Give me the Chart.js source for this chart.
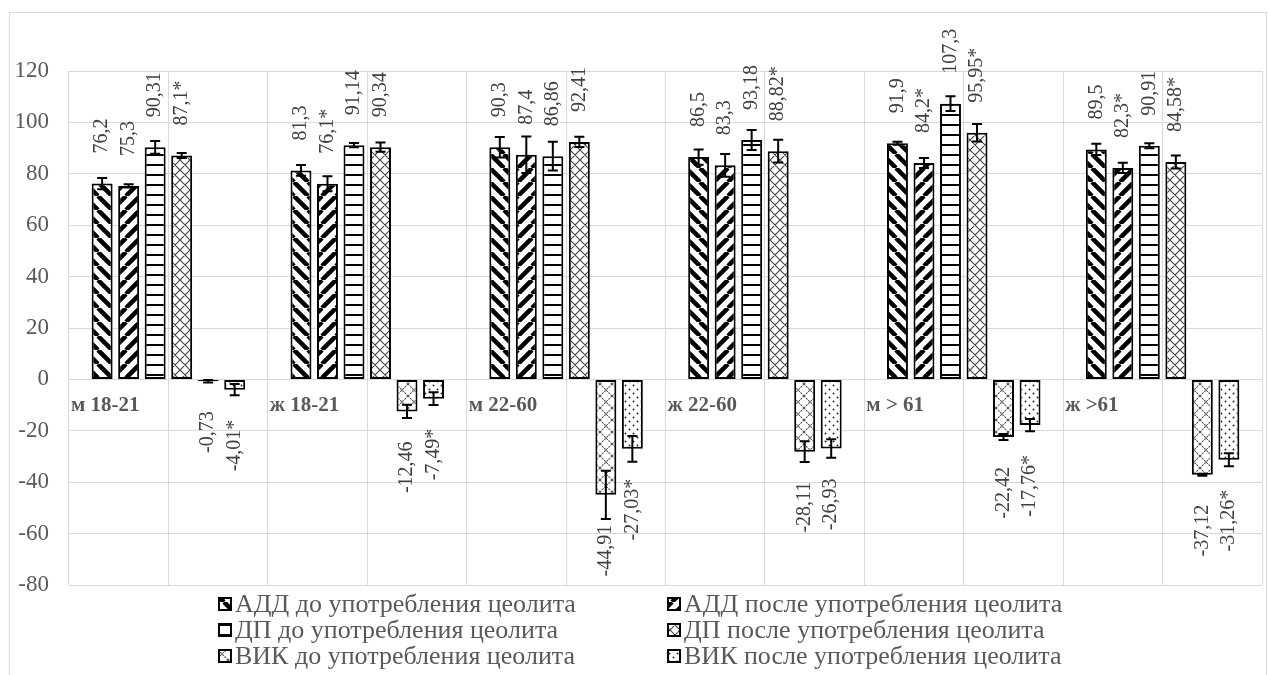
<!DOCTYPE html>
<html><head><meta charset="utf-8">
<script src="https://cdn.jsdelivr.net/npm/chart.js@4.4.1/dist/chart.umd.min.js"></script>
<style>html,body{margin:0;padding:0;background:#fff;}canvas{display:block;}</style>
</head><body>
<canvas id="c" width="1268" height="675"></canvas>
<script>
// ---- data ----
const categories = ['м 18-21', 'ж 18-21', 'м 22-60', 'ж 22-60', 'м > 61', 'ж >61'];
const seriesNames = [
  'АДД до употребления цеолита', 'АДД после употребления цеолита',
  'ДП до употребления цеолита', 'ДП после употребления цеолита',
  'ВИК до употребления цеолита', 'ВИК после употребления цеолита'
];
const addBefore = [76.2, 81.3, 90.3, 86.5, 91.9, 89.5];
const addAfter  = [75.3, 76.1, 87.4, 83.3, 84.2, 82.3];
const dpBefore  = [90.31, 91.14, 86.86, 93.18, 107.3, 90.91];
const dpAfter   = [87.1, 90.34, 92.41, 88.82, 95.95, 84.58];
const vikBefore = [-0.73, -12.46, -44.91, -28.11, -22.42, -37.12];
const vikAfter  = [-4.01, -7.49, -27.03, -26.93, -17.76, -31.26];

const addBeforeErr = [2.2, 2.1, 4.0, 3.0, 0.6, 2.2];
const addAfterErr  = [0.6, 2.9, 7.1, 4.4, 1.9, 2.0];
const dpBeforeErr  = [2.5, 0.8, 5.6, 3.9, 2.9, 1.0];
const dpAfterErr   = [1.0, 1.8, 2.0, 4.4, 3.4, 2.5];
const vikBeforeErr = [0.5, 2.6, 9.4, 4.0, 1.2, 0.4];
const vikAfterErr  = [2.2, 2.5, 5.0, 3.6, 2.4, 2.5];

const addBeforeStar = [false, false, false, false, false, false];
const addAfterStar  = [false, true, false, false, true, true];
const dpBeforeStar  = [false, false, false, false, false, false];
const dpAfterStar   = [true, false, false, true, true, true];
const vikBeforeStar = [false, false, false, false, false, false];
const vikAfterStar  = [true, true, true, false, true, true];

const yTickMin = -80, yTickMax = 120, yTickStep = 20;

// ---- styles ----
const FONT = "'Liberation Serif', 'Times New Roman', serif";
const GRID = '#d9d9d9';

function makePattern(kind) {
  const c = document.createElement('canvas');
  const g = c.getContext('2d');
  let s = 14;
  if (kind === 'down' || kind === 'up') {
    s = 14; c.width = c.height = s;
    g.fillStyle = '#fff'; g.fillRect(0, 0, s, s);
    g.strokeStyle = '#000'; g.lineWidth = 4.5; g.beginPath();
    for (let k = -1; k <= 1; k++) {
      if (kind === 'down') { g.moveTo(k * s, 0); g.lineTo(k * s + s, s); }
      else { g.moveTo(k * s, s); g.lineTo(k * s + s, 0); }
    }
    g.stroke();
  } else if (kind === 'horiz') {
    s = 10; c.width = c.height = s;
    g.fillStyle = '#fff'; g.fillRect(0, 0, s, s);
    g.fillStyle = '#000'; g.fillRect(0, 4, s, 2);
  } else if (kind === 'cross') {
    s = 10; c.width = c.height = s;
    g.fillStyle = '#fff'; g.fillRect(0, 0, s, s);
    g.strokeStyle = '#444'; g.lineWidth = 1.1; g.beginPath();
    for (let k = -1; k <= 1; k++) {
      g.moveTo(k * s, 0); g.lineTo(k * s + s, s);
      g.moveTo(k * s, s); g.lineTo(k * s + s, 0);
    }
    g.stroke();
  } else if (kind === 'cross2') {
    s = 12; c.width = c.height = s;
    g.fillStyle = '#fff'; g.fillRect(0, 0, s, s);
    g.strokeStyle = '#555'; g.lineWidth = 1.1; g.setLineDash([2, 1]); g.beginPath();
    for (let k = -1; k <= 1; k++) {
      g.moveTo(k * s, 0); g.lineTo(k * s + s, s);
      g.moveTo(k * s, s); g.lineTo(k * s + s, 0);
    }
    g.stroke();
  } else if (kind === 'dots') {
    s = 8; c.width = c.height = s;
    g.fillStyle = '#fff'; g.fillRect(0, 0, s, s);
    g.fillStyle = '#222';
    g.beginPath(); g.arc(1.5, 1.5, 0.95, 0, Math.PI * 2); g.fill();
    g.beginPath(); g.arc(5.5, 5.5, 0.95, 0, Math.PI * 2); g.fill();
  }
  return g.createPattern(c, 'repeat');
}

const patterns = [makePattern('down'), makePattern('up'), makePattern('horiz'),
                  makePattern('cross'), makePattern('cross2'), makePattern('dots')];
const seriesValues = [addBefore, addAfter, dpBefore, dpAfter, vikBefore, vikAfter];
const seriesErrors = [addBeforeErr, addAfterErr, dpBeforeErr, dpAfterErr, vikBeforeErr, vikAfterErr];
const seriesStars = [addBeforeStar, addAfterStar, dpBeforeStar, dpAfterStar, vikBeforeStar, vikAfterStar];

const datasets = seriesNames.map((name, i) => ({
  label: name,
  data: seriesValues[i],
  errors: seriesErrors[i],
  stars: seriesStars[i],
  backgroundColor: patterns[i],
  borderColor: '#000',
  borderWidth: 2,
  borderSkipped: false,
  categoryPercentage: 0.8,
  barPercentage: 0.79
}));

function fmt(v, star) {
  return String(v).replace('.', ',') + (star ? '*' : '');
}

const bgPlugin = {
  id: 'bg',
  beforeDraw(chart) {
    const ctx = chart.ctx;
    ctx.save();
    ctx.fillStyle = '#fff';
    ctx.fillRect(0, 0, chart.width, chart.height);
    ctx.strokeStyle = GRID; ctx.lineWidth = 1;
    ctx.strokeRect(9.5, 12.5, chart.width - 11, chart.height - 12);
    ctx.restore();
  }
};

const errLabelPlugin = {
  id: 'errLabels',
  afterDatasetsDraw(chart) {
    const ctx = chart.ctx;
    const ys = chart.scales.y;
    chart.data.datasets.forEach((ds, di) => {
      const meta = chart.getDatasetMeta(di);
      meta.data.forEach((bar, i) => {
        const v = ds.data[i], e = ds.errors[i];
        const y1 = ys.getPixelForValue(v + e), y2 = ys.getPixelForValue(v - e);
        ctx.save();
        ctx.strokeStyle = '#000'; ctx.lineWidth = 2;
        ctx.beginPath();
        ctx.moveTo(bar.x, y1); ctx.lineTo(bar.x, y2);
        ctx.moveTo(bar.x - 5, y1); ctx.lineTo(bar.x + 5, y1);
        ctx.moveTo(bar.x - 5, y2); ctx.lineTo(bar.x + 5, y2);
        ctx.stroke();
        ctx.restore();
      });
    });
    chart.data.datasets.forEach((ds, di) => {
      const meta = chart.getDatasetMeta(di);
      meta.data.forEach((bar, i) => {
        const v = ds.data[i];
        const txt = fmt(v, ds.stars[i]);
        ctx.save();
        ctx.font = '20px ' + FONT;
        ctx.fillStyle = '#404040';
        ctx.textBaseline = 'middle';
        const off = 30;
        if (v >= 0) {
          ctx.translate(bar.x, bar.y - off);
          ctx.rotate(-Math.PI / 2);
          ctx.textAlign = 'left';
        } else {
          ctx.translate(bar.x, bar.y + off);
          ctx.rotate(-Math.PI / 2);
          ctx.textAlign = 'right';
        }
        ctx.fillText(txt, 0, 0);
        ctx.restore();
      });
    });
  }
};

const legendPlugin = {
  id: 'customLegend',
  afterDraw(chart) {
    const ctx = chart.ctx;
    const colX = [218, 667];
    const rowY = [604, 630, 656];
    chart.data.datasets.forEach((ds, i) => {
      const x = colX[i % 2], y = rowY[Math.floor(i / 2)];
      ctx.save();
      ctx.fillStyle = ds.backgroundColor;
      ctx.fillRect(x, y - 7, 14, 14);
      ctx.strokeStyle = '#000'; ctx.lineWidth = 2;
      ctx.strokeRect(x + 1, y - 6, 12, 12);
      ctx.font = '26px ' + FONT;
      ctx.fillStyle = '#595959';
      ctx.textBaseline = 'middle';
      ctx.textAlign = 'left';
      ctx.fillText(ds.label, x + 17, y + 1);
      ctx.restore();
    });
  }
};

new Chart(document.getElementById('c'), {
  type: 'bar',
  data: { labels: categories, datasets },
  options: {
    responsive: false,
    animation: false,
    devicePixelRatio: 1,
    layout: { padding: { top: 71, left: 0, right: 6, bottom: 90 } },
    plugins: { legend: { display: false }, tooltip: { enabled: false } },
    scales: {
      x: {
        position: { y: 0 },
        offset: true,
        grid: { offset: true, color: GRID, drawTicks: false },
        border: { color: GRID },
        ticks: {
          align: 'start',
          labelOffset: (c) => {
            const ca = c.chart.chartArea;
            return ca ? -(ca.right - ca.left) / categories.length / 2 + 2 : -97;
          },
          padding: 14,
          color: '#595959',
          font: { family: FONT, size: 21, weight: 'bold' },
          maxRotation: 0, autoSkip: false
        }
      },
      x2: {
        type: 'category',
        position: { y: 0 },
        offset: true,
        grid: { offset: false, color: GRID, drawTicks: false },
        border: { display: false },
        ticks: { display: false }
      },
      y: {
        min: yTickMin, max: yTickMax,
        ticks: { stepSize: yTickStep, padding: 20, color: '#595959', font: { family: FONT, size: 23 } },
        grid: { color: GRID, drawTicks: false },
        border: { display: false },
        afterFit: (s) => { s.width = 69; }
      }
    }
  },
  plugins: [bgPlugin, errLabelPlugin, legendPlugin]
});
</script>
</body></html>
